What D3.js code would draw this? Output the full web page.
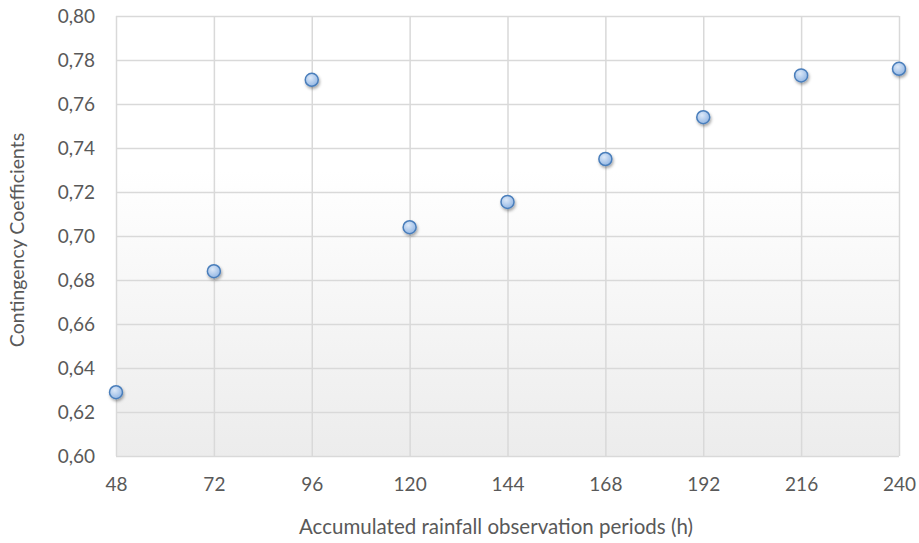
<!DOCTYPE html>
<html><head><meta charset="utf-8">
<script src="https://cdn.jsdelivr.net/npm/d3@7"></script>
<style>body{margin:0;background:#fff}svg{display:block}</style>
</head><body>
<script>
const periods = [48, 72, 96, 120, 144, 168, 192, 216, 240];
const coefficients = [0.629, 0.684, 0.771, 0.704, 0.7155, 0.735, 0.754, 0.773, 0.776];
const yTicks = [0.60,0.62,0.64,0.66,0.68,0.70,0.72,0.74,0.76,0.78,0.80];
const xTitle = "Accumulated rainfall observation periods (h)";
const yTitle = "Contingency Coefficients";

const W = 919, H = 543;
const m = {left:116, right:20, top:16, bottom:87};
const svg = d3.select("body").append("svg").attr("width", W).attr("height", H);
const defs = svg.append("defs");
const bg = defs.append("linearGradient").attr("id","bg").attr("x1",0).attr("y1",0).attr("x2",0).attr("y2",1);
bg.append("stop").attr("offset","0%").attr("stop-color","#ffffff");
bg.append("stop").attr("offset","35%").attr("stop-color","#ffffff");
bg.append("stop").attr("offset","100%").attr("stop-color","#ececec");
const mk = defs.append("radialGradient").attr("id","mk").attr("cx","40%").attr("cy","35%").attr("r","70%");
mk.append("stop").attr("offset","0%").attr("stop-color","#dde9f8");
mk.append("stop").attr("offset","100%").attr("stop-color","#8fb4e3");
const sh = defs.append("filter").attr("id","sh").attr("x","-50%").attr("y","-50%").attr("width","200%").attr("height","200%");
sh.append("feDropShadow").attr("dx",1).attr("dy",2).attr("stdDeviation",1.5).attr("flood-color","#000").attr("flood-opacity",0.35);

const x = d3.scaleLinear().domain([48,240]).range([m.left, W-m.right]);
const y = d3.scaleLinear().domain([0.60,0.80]).range([H-m.bottom, m.top]);

svg.append("rect").attr("x",m.left).attr("y",m.top).attr("width",x(240)-x(48)).attr("height",y(0.6)-y(0.8)).attr("fill","url(#bg)");

const fmt = d => d3.format(".2f")(d).replace(".", ",");
const font = "Lato, 'Open Sans', sans-serif";

const ya = svg.append("g").attr("transform",`translate(${m.left},0)`)
  .call(d3.axisLeft(y).tickValues(yTicks).tickFormat(fmt).tickSize(-(x(240)-x(48))).tickPadding(21));
ya.select(".domain").remove();
ya.selectAll("line").attr("stroke","#d9d9d9").attr("stroke-width",1.5);
ya.selectAll("text").attr("fill","#595959").style("font-family",font).style("font-size","19px");

const xa = svg.append("g").attr("transform",`translate(0,${H-m.bottom})`)
  .call(d3.axisBottom(x).tickValues(periods).tickFormat(d3.format("d")).tickSize(-(y(0.6)-y(0.8))).tickPadding(22));
xa.select(".domain").remove();
xa.selectAll("line").attr("stroke","#d9d9d9").attr("stroke-width",1.5);
xa.selectAll("text").attr("fill","#595959").style("font-family",font).style("font-size","19px");

svg.append("g").selectAll("circle").data(periods).join("circle")
  .attr("cx",(d)=>x(d)).attr("cy",(d,i)=>y(coefficients[i])).attr("r",6.5)
  .attr("fill","url(#mk)").attr("stroke","#4a7ebb").attr("stroke-width",1.5).attr("filter","url(#sh)");

svg.append("text").attr("x",496).attr("y",534).attr("text-anchor","middle")
  .attr("fill","#595959").style("font-family",font).style("font-size","20.5px").text(xTitle);
svg.append("text").attr("transform",`translate(24,240) rotate(-90)`).attr("text-anchor","middle")
  .attr("fill","#595959").style("font-family",font).style("font-size","19.5px").text(yTitle);
</script>
</body></html>
